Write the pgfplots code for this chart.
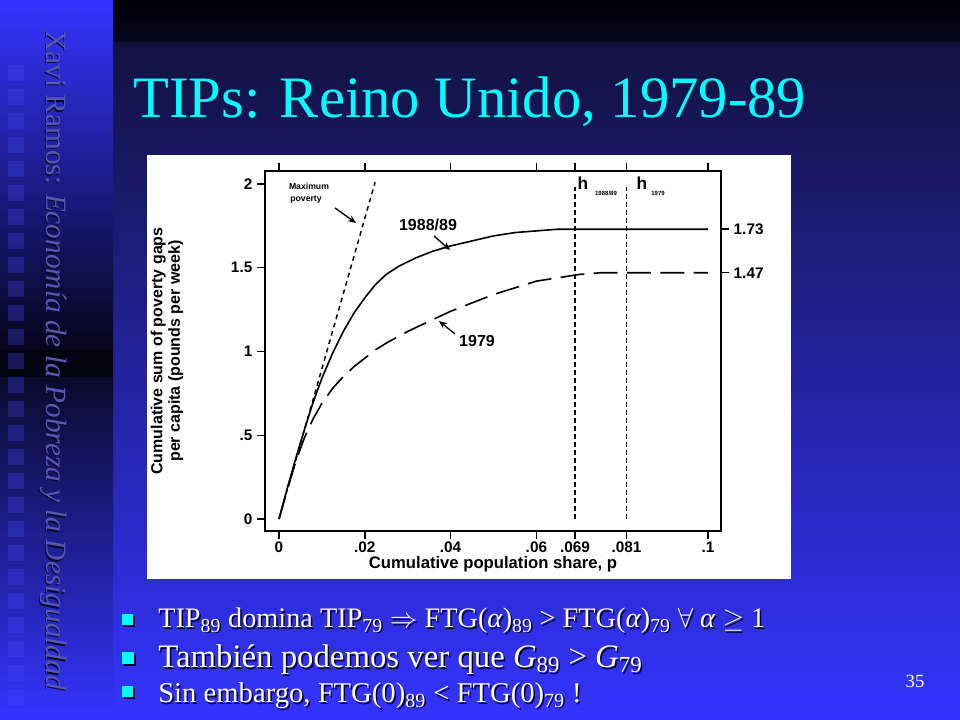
\documentclass[border=0pt]{standalone}
\usepackage{fontspec}
\setmainfont{Liberation Serif}
\newfontfamily\plotfont{Liberation Sans}
\usepackage{pgfplots}
\pgfplotsset{compat=1.18}
\usetikzlibrary{arrows.meta}
\definecolor{cyanT}{RGB}{0,255,255}
\definecolor{bgbright}{RGB}{52,52,255}
\definecolor{bgtopR}{RGB}{18,18,64}
\definecolor{bandtop}{RGB}{0,0,6}
\definecolor{bandbot}{RGB}{6,6,30}
\definecolor{darkL}{RGB}{5,5,26}
\definecolor{darkband}{RGB}{3,3,15}
\definecolor{darkL2}{RGB}{10,10,44}
\definecolor{sideTxt}{RGB}{88,88,180}
\definecolor{sideShadow}{RGB}{10,10,40}
\definecolor{txtShadow}{RGB}{0,0,60}
\definecolor{sq}{RGB}{70,70,255}
\begin{document}
\begin{tikzpicture}
\useasboundingbox (0,0) rectangle (720pt,540pt);
\begin{scope}[shift={(0pt,540pt)}, x=0.75pt, y=-0.75pt]
  % backgrounds
  \shade[top color=bandtop, bottom color=bandbot] (113,0) rectangle (960,43);
  \shade[top color=bgtopR, bottom color=bgbright] (113,43) rectangle (960,720);
  \shade[top color=bgbright, bottom color=darkL] (0,0) rectangle (113,350);
  \fill[darkband] (0,350) rectangle (113,378);
  \shade[top color=darkL2, bottom color=bgbright] (0,378) rectangle (113,720);
  \foreach \yy in {65,89,...,689} {
    \fill[sq, opacity=0.3] (8,\yy) rectangle (24,\yy+16);
  }
  % vertical side text
  \node[rotate=-90, anchor=west, text=sideShadow, font=\fontsize{22}{26}\selectfont, inner sep=0pt] at (52.5,31.5) {Xavi Ramos: \textit{Economía de la Pobreza y la Desigualdad}};
  \node[rotate=-90, anchor=west, text=sideTxt, font=\fontsize{22}{26}\selectfont, inner sep=0pt] at (54,30) {Xavi Ramos: \textit{Economía de la Pobreza y la Desigualdad}};
  % title
  \node[anchor=base west, text=cyanT, font=\fontsize{44}{50}\selectfont, inner sep=0pt] at (133,118) {TIPs: Reino Unido, 1979-89};
  % white panel
  \fill[white] (147,155) rectangle (791,579);
  % bullets
  \foreach \by/\bs in {614/11, 652/12, 686/11} {
    \fill[txtShadow] (124,\by+2) rectangle (124+\bs,\by+\bs+2);
    \fill[cyanT] (122,\by) rectangle (122+\bs,\by+\bs);
  }
  \node[anchor=base west, text=txtShadow, font=\fontsize{21.2}{25}\selectfont, inner sep=0pt] at (159.5,629.5) {TIP\textsubscript{89} domina TIP\textsubscript{79} $\Rightarrow$ FTG(\textit{α})\textsubscript{89} > FTG(\textit{α})\textsubscript{79} $\forall$ \textit{α} $\geq$ 1};
  \node[anchor=base west, text=white, font=\fontsize{21.2}{25}\selectfont, inner sep=0pt] at (158,628) {TIP\textsubscript{89} domina TIP\textsubscript{79} $\Rightarrow$ FTG(\textit{α})\textsubscript{89} > FTG(\textit{α})\textsubscript{79} $\forall$ \textit{α} $\geq$ 1};
  \node[anchor=base west, text=txtShadow, font=\fontsize{24.6}{29}\selectfont, inner sep=0pt] at (159.5,669.5) {También podemos ver que \textit{G}\textsubscript{89} > \textit{G}\textsubscript{79}};
  \node[anchor=base west, text=white, font=\fontsize{24.6}{29}\selectfont, inner sep=0pt] at (158,668) {También podemos ver que \textit{G}\textsubscript{89} > \textit{G}\textsubscript{79}};
  \node[anchor=base west, text=txtShadow, font=\fontsize{21.5}{25}\selectfont, inner sep=0pt] at (159.5,704.5) {Sin embargo, FTG(0)\textsubscript{89} < FTG(0)\textsubscript{79} !};
  \node[anchor=base west, text=white, font=\fontsize{21.5}{25}\selectfont, inner sep=0pt] at (158,703) {Sin embargo, FTG(0)\textsubscript{89} < FTG(0)\textsubscript{79} !};
  % slide number
  \node[text=white, font=\fontsize{14}{16}\selectfont] at (915,681) {35};
\end{scope}

\begin{axis}[
  at={(198.75pt,141.75pt)}, anchor=south west,
  scale only axis, width=342pt, height=270pt,
  xmin=-0.00326, xmax=0.10303, ymin=-0.0716, ymax=2.0776,
  axis line style={line width=1.3pt},
  tick style={line width=1.1pt, black},
  major tick length=6pt,
  tick align=outside,
  scaled x ticks=false, scaled y ticks=false,
  xtick={0,0.02,0.04,0.06,0.069,0.081,0.1},
  xticklabels={0,.02,.04,.06,.069,.081,.1},
  xtick pos=both, xticklabel pos=left,
  ytick={0,0.5,1,1.5,2},
  yticklabels={0,.5,1,1.5,2},
  ytick pos=left,
  tick label style={font=\plotfont\bfseries\fontsize{11.5}{13}\selectfont},
  xticklabel style={yshift=1.5pt},
  xlabel={Cumulative population share, p},
  ylabel={Cumulative sum of poverty gaps\\per capita (pounds per week)},
  every axis x label/.style={at={(axis description cs:0.5,-0.103)}, anchor=base, font=\plotfont\bfseries\fontsize{12.5}{15}\selectfont},
  every axis y label/.style={at={(axis description cs:-0.2149,0.5)}, anchor=center, rotate=90, align=center, font=\plotfont\bfseries\fontsize{12}{13}\selectfont},
  clip=false,
]
% maximum poverty
\addplot[black, line width=1.1pt, dash pattern=on 3.5pt off 3pt] coordinates {(0,0) (0.0224,2.01)};
% 1988/89
\addplot[black, line width=1.2pt] coordinates {
(0,0) (0.002,0.19) (0.004,0.37) (0.006,0.54) (0.008,0.70) (0.010,0.84)
(0.0125,0.99) (0.015,1.12) (0.0175,1.23) (0.020,1.32) (0.0225,1.40)
(0.025,1.46) (0.028,1.51) (0.032,1.56) (0.036,1.60) (0.040,1.63)
(0.045,1.66) (0.050,1.69) (0.055,1.71) (0.060,1.72) (0.065,1.73)
(0.069,1.73) (0.100,1.73)};
% 1979
\addplot[black, line width=1.2pt, dash pattern=on 18pt off 7pt] coordinates {
(0,0) (0.002,0.18) (0.004,0.35) (0.006,0.49) (0.008,0.60) (0.010,0.69)
(0.0125,0.78) (0.015,0.85) (0.0175,0.91) (0.020,0.96) (0.0225,1.01)
(0.025,1.05) (0.030,1.12) (0.035,1.18) (0.040,1.24) (0.045,1.29)
(0.050,1.34) (0.055,1.38) (0.060,1.42) (0.065,1.44) (0.070,1.46)
(0.075,1.47) (0.081,1.47) (0.100,1.47)};
% h lines
\addplot[black, line width=1pt, dash pattern=on 3.5pt off 2.5pt] coordinates {(0.069,0) (0.069,1.98)};
\addplot[black, line width=1pt, dash pattern=on 3.5pt off 2.5pt] coordinates {(0.081,0) (0.081,1.98)};
\end{axis}

\begin{axis}[
  at={(198.75pt,141.75pt)}, anchor=south west,
  scale only axis, width=342pt, height=270pt,
  xmin=-0.00326, xmax=0.10303, ymin=-0.0716, ymax=2.0776,
  axis x line=none, axis y line*=right,
  axis line style={line width=1.3pt},
  tick style={line width=1.1pt, black},
  major tick length=6pt,
  tick align=outside,
  ytick={1.47,1.73}, yticklabels={1.47,1.73},
  tick label style={font=\plotfont\bfseries\fontsize{11.5}{13}\selectfont},
]
\addplot[draw=none] coordinates {(0,0) (0.1,2)};
\end{axis}

\begin{scope}[shift={(0pt,540pt)}, x=0.75pt, y=-0.75pt]
  \node[font=\plotfont\bfseries\fontsize{6.5}{7}\selectfont, inner sep=0pt] at (309,186) {Maximum};
  \node[font=\plotfont\bfseries\fontsize{6.5}{7}\selectfont, inner sep=0pt] at (306,200) {poverty};
  \draw[line width=1pt, -{Stealth[length=6pt,width=5pt]}] (335,208) -- (356,223);
  \node[font=\plotfont\bfseries\fontsize{12}{14}\selectfont, inner sep=0pt] at (428,225) {1988/89};
  \draw[line width=1pt, -{Stealth[length=6pt,width=5pt]}] (434,236) -- (450,250);
  \node[font=\plotfont\bfseries\fontsize{12}{14}\selectfont, inner sep=0pt] at (477,341) {1979};
  \draw[line width=1pt, -{Stealth[length=6pt,width=5pt]}] (455,334) -- (439,321);
  \node[font=\plotfont\bfseries\fontsize{13}{14}\selectfont, inner sep=0pt, anchor=base] at (583,190) {h};
  \node[font=\plotfont\bfseries\fontsize{4.5}{5}\selectfont, inner sep=0pt] at (606,193) {1988/89};
  \node[font=\plotfont\bfseries\fontsize{13}{14}\selectfont, inner sep=0pt, anchor=base] at (642,190) {h};
  \node[font=\plotfont\bfseries\fontsize{4.5}{5}\selectfont, inner sep=0pt] at (658,193) {1979};
\end{scope}
\end{tikzpicture}
\end{document}
